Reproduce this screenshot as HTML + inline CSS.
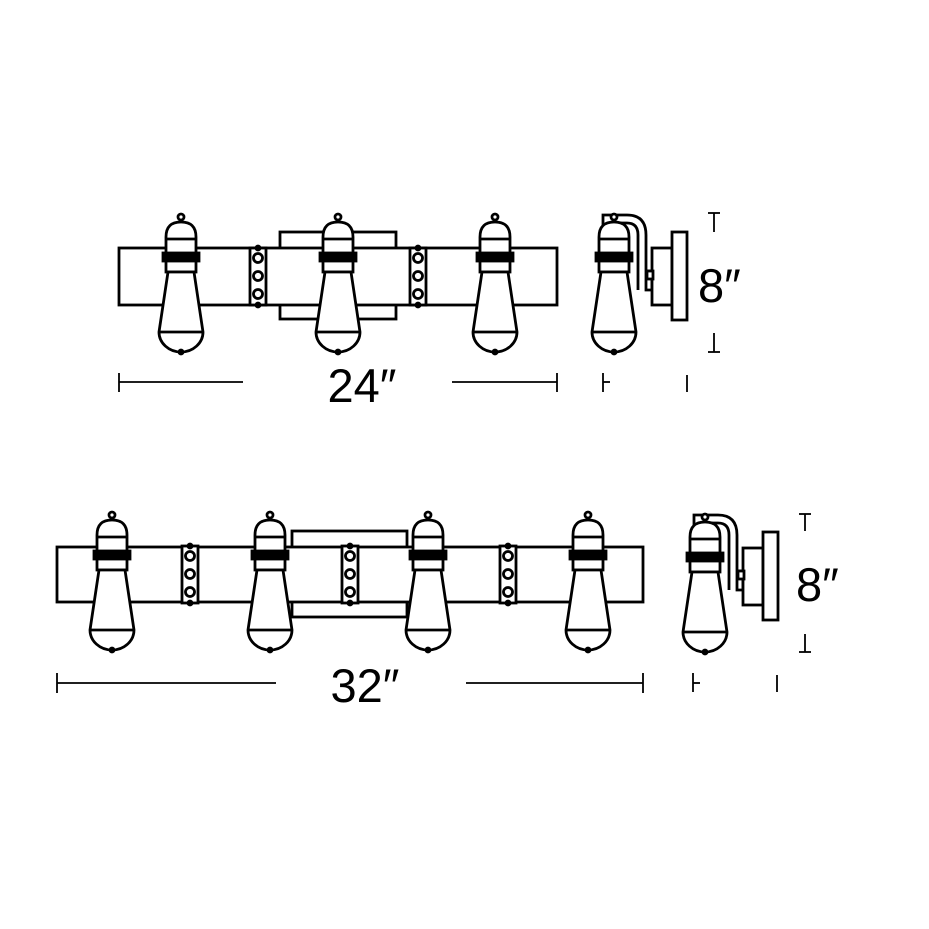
<!DOCTYPE html>
<html><head><style>html,body{margin:0;padding:0;background:#fff}svg{display:block}</style></head>
<body>
<svg width="929" height="929" viewBox="0 0 929 929" xmlns="http://www.w3.org/2000/svg">
<defs>
<g id="bulb" fill="#fff" stroke="#000" stroke-width="2.8">
<circle cx="0" cy="4" r="3"/>
<path d="M-15,59 V24 Q-15,9 0,9 Q15,9 15,24 V59 Z"/>
<line x1="-15" y1="26" x2="15" y2="26"/>
<rect x="-18" y="40" width="36" height="8" fill="#000"/>
<path d="M-13,59 L-22,119 A22,20 0 0 0 22,119 L13,59 Z"/>
<line x1="-22" y1="119" x2="22" y2="119"/>
<circle cx="0" cy="139" r="2" fill="#000"/>
</g>
<g id="clamp" fill="#fff" stroke="#000" stroke-width="2.8">
<rect x="-8" y="0" width="16" height="57"/>
<circle cx="0" cy="10" r="4.5"/><circle cx="0" cy="28" r="4.5"/><circle cx="0" cy="46" r="4.5"/>
<circle cx="0" cy="0" r="2" fill="#000"/><circle cx="0" cy="57" r="2" fill="#000"/>
</g>
<g id="side" fill="#fff" stroke="#000" stroke-width="2.8">
<path d="M-11,13 V2 H13 Q32,2 32,22 V77 H38 V58 H32"/>
<path d="M-3,13 V10 H13 Q24,10 24,22 V77"/>
<rect x="38" y="35" width="20" height="57"/>
<rect x="58" y="19" width="15" height="88"/>
<rect x="33" y="58" width="6" height="8"/>
</g>
</defs>
<g stroke="#000" stroke-width="2.8" fill="#fff">
<rect x="280" y="232" width="116" height="87"/>
<rect x="119" y="248" width="438" height="57"/>
</g>
<use href="#clamp" x="258" y="248"/>
<use href="#clamp" x="418" y="248"/>
<use href="#bulb" x="181" y="213"/>
<use href="#bulb" x="338" y="213"/>
<use href="#bulb" x="495" y="213"/>
<use href="#side" x="614" y="213"/>
<use href="#bulb" x="614" y="213"/>
<g stroke="#000" stroke-width="1.8">
<line x1="119" y1="382" x2="243" y2="382"/><line x1="452" y1="382" x2="557" y2="382"/>
<line x1="119" y1="373" x2="119" y2="392"/><line x1="557" y1="373" x2="557" y2="392"/>
<line x1="603" y1="373" x2="603" y2="392"/><line x1="603" y1="382" x2="610" y2="382"/>
<line x1="687" y1="375" x2="687" y2="392"/>
<line x1="708" y1="213" x2="720" y2="213"/><line x1="714" y1="213" x2="714" y2="232"/>
<line x1="708" y1="352" x2="720" y2="352"/><line x1="714" y1="333" x2="714" y2="352"/>
</g>
<g font-family="'Liberation Sans',sans-serif" font-size="47" fill="#000">
<text x="362" y="402" text-anchor="middle">24″</text>
<text x="698" y="302">8″</text>
<text x="365" y="702" text-anchor="middle">32″</text>
<text x="796" y="601">8″</text>
</g>
<g stroke="#000" stroke-width="2.8" fill="#fff">
<rect x="292" y="531" width="115" height="86"/>
<rect x="57" y="547" width="586" height="55"/>
</g>
<use href="#clamp" x="190" y="546"/>
<use href="#clamp" x="350" y="546"/>
<use href="#clamp" x="508" y="546"/>
<use href="#bulb" x="112" y="511"/>
<use href="#bulb" x="270" y="511"/>
<use href="#bulb" x="428" y="511"/>
<use href="#bulb" x="588" y="511"/>
<use href="#side" x="705" y="513"/>
<use href="#bulb" x="705" y="513"/>
<g stroke="#000" stroke-width="1.8">
<line x1="57" y1="683" x2="276" y2="683"/><line x1="466" y1="683" x2="643" y2="683"/>
<line x1="57" y1="673" x2="57" y2="693"/><line x1="643" y1="673" x2="643" y2="693"/>
<line x1="693" y1="673" x2="693" y2="692"/><line x1="693" y1="683" x2="700" y2="683"/>
<line x1="777" y1="675" x2="777" y2="692"/>
<line x1="799" y1="514" x2="811" y2="514"/><line x1="805" y1="514" x2="805" y2="531"/>
<line x1="799" y1="652" x2="811" y2="652"/><line x1="805" y1="634" x2="805" y2="652"/>
</g>
</svg>
</body></html>
